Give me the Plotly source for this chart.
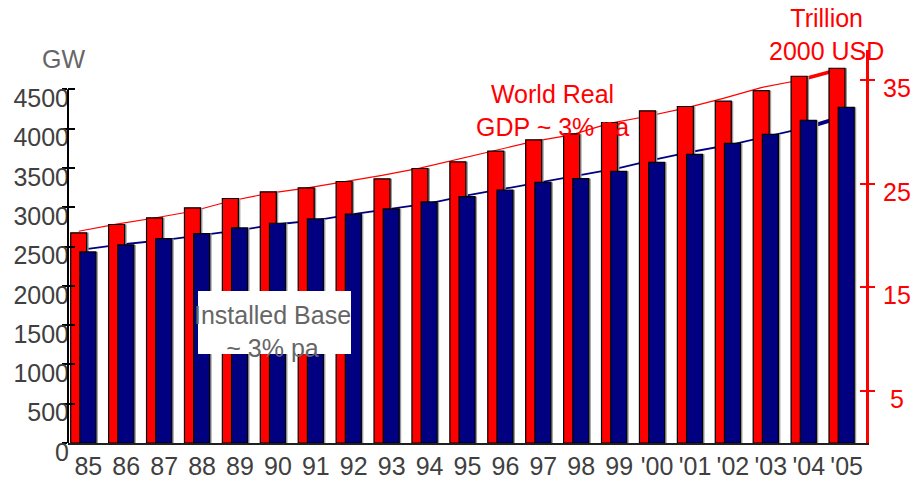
import plotly.graph_objects as go

# ---- data ----
years = ["85", "86", "87", "88", "89", "90", "91", "92", "93", "94", "95", "96",
         "97", "98", "99", "'00", "'01", "'02", "'03", "'04", "'05"]
gdp = [20.27, 21.07, 21.72, 22.68, 23.58, 24.22, 24.61, 25.22, 25.48, 26.47, 27.12,
       28.14, 29.24, 29.82, 30.91, 32.03, 32.45, 32.96, 33.99, 35.37, 36.14]
gw = [2431, 2520, 2600, 2664, 2736, 2796, 2851, 2911, 2978, 3067, 3134,
      3219, 3317, 3363, 3457, 3571, 3673, 3813, 3927, 4105, 4271]
gdp_trend = [20.42, 21.10, 21.70, 22.35, 23.34, 24.07, 24.58, 25.16, 25.81, 26.51, 27.38,
             28.27, 29.08, 29.72, 30.83, 31.51, 32.29, 33.24, 34.27, 34.98, 35.97]
gw_trend = [2470, 2532, 2580, 2640, 2709, 2783, 2833, 2911, 2978, 3048, 3150,
            3237, 3322, 3405, 3497, 3612, 3712, 3800, 3905, 4018, 4165]
gw_ticks = [0, 500, 1000, 1500, 2000, 2500, 3000, 3500, 4000, 4500]
gdp_ticks = [5, 15, 25, 35]
gdp_ticktext = [" 5", "15", "25", "35"]

# ---- geometry ----
W, H = 913, 480
ML, MR, MT, MB = 68, 47, 50, 37
PW, PH = W - ML - MR, H - MT - MB
XR = [-0.537, 20.51]
UNIT = PW / (XR[1] - XR[0])          # pixels per category
GW_RANGE = [0, 5000]
GDP_RANGE = [0, 37.9]

def px(xp):
    return (xp - ML) / PW

def py(yp):
    return (H - MB - yp) / PH

x = list(range(len(years)))
bar_w = 16 / UNIT
red_off = -0.5 + 1.3 / UNIT
blue_off = -0.5 + 10.5 / UNIT
shadow = 2 / UNIT
red_c = [i + red_off + bar_w / 2 for i in x]
blue_c = [i + blue_off + bar_w / 2 for i in x]

RED = "#ff0000"
NAVY = "#000080"
FONT = "Liberation Sans, Arial, sans-serif"
FS = 25

fig = go.Figure()

# trend lines (drawn beneath the bars)
fig.add_trace(go.Scatter(x=blue_c[:20], y=gw_trend[:20], mode="lines",
                         line=dict(color=NAVY, width=1.8), yaxis="y", hoverinfo="skip"))
fig.add_trace(go.Scatter(x=blue_c[19:], y=gw_trend[19:], mode="lines",
                         line=dict(color=NAVY, width=4), yaxis="y", hoverinfo="skip"))
fig.add_trace(go.Scatter(x=red_c[:20], y=gdp_trend[:20], mode="lines",
                         line=dict(color=RED, width=1.2), yaxis="y2", hoverinfo="skip"))
fig.add_trace(go.Scatter(x=red_c[19:], y=gdp_trend[19:], mode="lines",
                         line=dict(color=RED, width=3.5), yaxis="y2", hoverinfo="skip"))

# GDP bars with drop shadow
fig.add_trace(go.Bar(x=x, y=gdp, width=bar_w, offset=red_off + shadow,
                     marker=dict(color="#9a9a9a", line=dict(width=0)), yaxis="y3"))
fig.add_trace(go.Bar(x=x, y=gdp, width=bar_w, offset=red_off,
                     marker=dict(color=RED, line=dict(color="black", width=1.2)), yaxis="y3"))
# installed base bars with drop shadow
fig.add_trace(go.Bar(x=x, y=gw, width=bar_w, offset=blue_off + shadow,
                     marker=dict(color="#9a9a9a", line=dict(width=0)), yaxis="y4"))
fig.add_trace(go.Bar(x=x, y=gw, width=bar_w, offset=blue_off,
                     marker=dict(color=NAVY, line=dict(color="black", width=1.2)), yaxis="y4"))

common = dict(showgrid=False, zeroline=False, automargin=False)
boundaries = [i - 0.5 for i in x]

fig.update_layout(
    width=W, height=H,
    margin=dict(l=ML, r=MR, t=MT, b=MB, pad=0, autoexpand=False),
    paper_bgcolor="white", plot_bgcolor="white",
    barmode="overlay", showlegend=False,
    font=dict(family=FONT, size=FS, color="#404040"),
    xaxis=dict(range=XR, tickmode="array", tickvals=x, ticktext=years, ticks="",
               showline=True, linecolor="#202020", linewidth=2,
               tickfont=dict(size=FS, color="#404040"), ticklabelstandoff=0, **common),
    xaxis2=dict(overlaying="x", anchor="y", range=XR, tickmode="array", tickvals=boundaries,
                ticks="outside", ticklen=7, tickwidth=1.5, tickcolor="black",
                showticklabels=False, showline=False, **common),
    xaxis3=dict(overlaying="x", anchor="y", range=XR, tickmode="array", tickvals=boundaries,
                ticks="inside", ticklen=4, tickwidth=1.5, tickcolor="black",
                showticklabels=False, showline=False, **common),
    yaxis=dict(range=GW_RANGE, tickmode="array", tickvals=gw_ticks, ticks="outside",
               ticklen=5, tickwidth=1.5, tickcolor="black", showline=False,
               tickfont=dict(size=FS, color="#404040"), ticklabelshift=9,
               ticklabelstandoff=-12, **common),
    yaxis2=dict(overlaying="y", side="right", anchor="x", range=GDP_RANGE, tickmode="array",
                tickvals=gdp_ticks, ticks="inside", ticklen=6, tickwidth=1.5, tickcolor=RED,
                showticklabels=False, showline=False, **common),
    yaxis3=dict(overlaying="y", side="right", anchor="x", range=GDP_RANGE, tickmode="array",
                tickvals=gdp_ticks, ticktext=gdp_ticktext, ticks="outside", ticklen=6,
                tickwidth=1.5, tickcolor=RED, showline=True, linecolor=RED, linewidth=3,
                tickfont=dict(size=FS, color=RED), ticklabelshift=8, ticklabelstandoff=3,
                **common),
    yaxis4=dict(overlaying="y", side="left", anchor="x", range=GW_RANGE, tickmode="array",
                tickvals=gw_ticks, ticks="inside", ticklen=7, tickwidth=1.5, tickcolor="black",
                showticklabels=False, showline=False, **common),
)

# left axis line only up to the top tick
fig.add_shape(type="line", xref="paper", yref="y", x0=0, x1=0, y0=0, y1=gw_ticks[-1],
              line=dict(color="black", width=2), layer="above")

# white panel behind the installed-base caption
fig.add_shape(type="rect", xref="paper", yref="paper",
              x0=px(198), x1=px(351), y0=py(354), y1=py(291),
              fillcolor="white", line=dict(width=0), layer="above")

def label(text, xp, yp, color):
    fig.add_annotation(text=text, xref="paper", yref="paper", x=px(xp), y=py(yp),
                       xanchor="center", yanchor="middle", showarrow=False,
                       font=dict(family=FONT, size=FS, color=color))

label("GW", 63, 59, "#666666")
label("Trillion<br>2000 USD", 826, 34, RED)
label("World Real<br>GDP ~ 3% pa", 552, 110, RED)
label("Installed Base<br>~ 3% pa", 272, 331, "#666666")

fig.write_html("out.html")
